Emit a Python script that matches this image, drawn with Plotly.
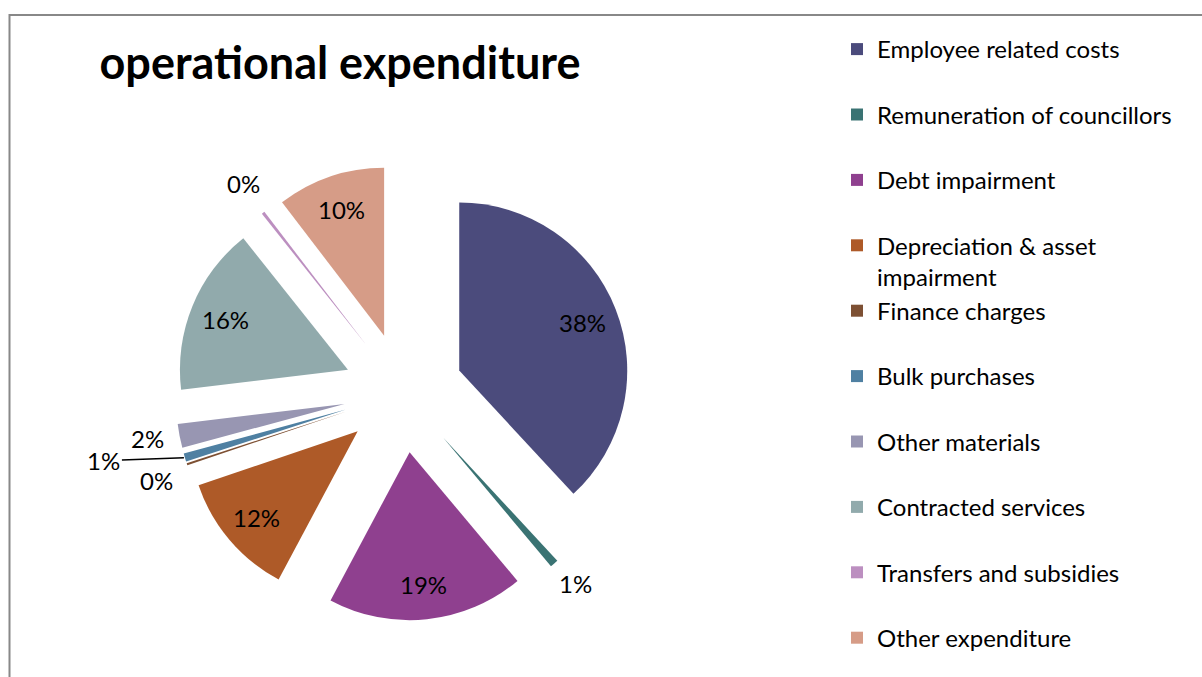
import math
import plotly.graph_objects as go

# Operational expenditure breakdown (share of total, %)
categories = [
    "Employee related costs",
    "Remuneration of councillors",
    "Debt impairment",
    "Depreciation & asset impairment",
    "Finance charges",
    "Bulk purchases",
    "Other materials",
    "Contracted services",
    "Transfers and subsidies",
    "Other expenditure",
]
shares = [38.1, 0.8, 18.9, 12.0, 0.2, 0.8, 2.3, 16.2, 0.3, 10.4]

colors = [
    "#4B4B7C", "#3A7373", "#8F408F", "#AE5A28", "#7D5033",
    "#4F80A2", "#9896B2", "#91AAAC", "#BC8FC0", "#D69C87",
]

W, H = 1202, 677
FONT = "Lato"
LABEL_SIZE = 24

# Pie geometry in pixels: centre, radius and explosion (fraction of radius)
CX, CY = 403.4, 392.5
R = 168
PULL = 0.357
EXTENT = R * (1 + PULL)


def px_x(x):
    return x / W


def px_y(y):
    return 1 - y / H


# Legend entries: each one spans two lines so the items are evenly spaced
legend_labels = []
for name in categories:
    if name == "Depreciation & asset impairment":
        legend_labels.append("Depreciation & asset<br>impairment")
    else:
        legend_labels.append(name + "<br>\u00a0")

# Percentage labels: inside the large slices, outside the small ones
total = sum(shares)
n = len(shares)
is_inside = [v / total >= 0.05 for v in shares]
# small slices squeezed between two other small slices get a leader line
has_leader = [
    (not is_inside[i]) and (not is_inside[i - 1]) and (not is_inside[(i + 1) % n])
    for i in range(n)
]

annotations = []
cum = 0.0
for i, v in enumerate(shares):
    mid = (cum + v / 2) / total * 2 * math.pi
    cum += v
    dx, dy = math.sin(mid), -math.cos(mid)
    text = f"{v / total:.0%}"
    label_font = dict(family=FONT, size=LABEL_SIZE, color="black")
    if is_inside[i]:
        dist = (PULL + 0.79) * R
        annotations.append(dict(
            x=px_x(CX + dist * dx), y=px_y(CY + dist * dy),
            xref="paper", yref="paper", text=text, showarrow=False,
            xanchor="center", yanchor="middle", font=label_font,
        ))
    elif has_leader[i]:
        tip = EXTENT + 1
        annotations.append(dict(
            x=px_x(CX + tip * dx), y=px_y(CY + tip * dy),
            xref="paper", yref="paper", text=text, showarrow=True,
            ax=-80 if dx < 0 else 80, ay=3,
            arrowhead=0, arrowwidth=1.5, arrowcolor="black", standoff=0,
            font=label_font,
        ))
    else:
        dist = 1.55 * R
        shift = 4
        # keep clear of a neighbouring leader line
        if has_leader[(i + 1) % n]:
            shift -= 10
        annotations.append(dict(
            x=px_x(CX + dist * dx), y=px_y(CY + dist * dy),
            xref="paper", yref="paper", text=text, showarrow=False,
            xanchor="center", yanchor="middle", yshift=shift, font=label_font,
        ))

fig = go.Figure(
    go.Pie(
        labels=legend_labels,
        values=shares,
        sort=False,
        direction="clockwise",
        rotation=0,
        pull=PULL,
        marker=dict(colors=colors, line=dict(width=0)),
        textinfo="none",
        domain=dict(
            x=[px_x(CX - EXTENT), px_x(CX + EXTENT)],
            y=[px_y(CY + EXTENT), px_y(CY - EXTENT)],
        ),
        hoverinfo="label+percent",
    )
)

fig.update_layout(
    width=W,
    height=H,
    margin=dict(l=0, r=0, t=0, b=0, autoexpand=False),
    paper_bgcolor="white",
    plot_bgcolor="white",
    font=dict(family=FONT, size=24, color="black"),
    title=dict(
        text="operational expenditure",
        x=px_x(340), xanchor="center",
        y=px_y(63), yanchor="middle",
        font=dict(family=FONT, size=45, color="black", weight="bold"),
    ),
    legend=dict(
        x=px_x(837), xanchor="left",
        y=px_y(27), yanchor="top",
        valign="top",
        font=dict(family=FONT, size=24, color="black"),
        bgcolor="rgba(0,0,0,0)",
        traceorder="normal",
    ),
    annotations=annotations,
    shapes=[
        dict(
            type="rect", xref="paper", yref="paper",
            x0=px_x(9.5), y0=px_y(H + 20), x1=px_x(W + 20), y1=px_y(15),
            line=dict(color="#888888", width=2),
            fillcolor="rgba(0,0,0,0)",
        )
    ],
)

fig.write_html("out.html")
